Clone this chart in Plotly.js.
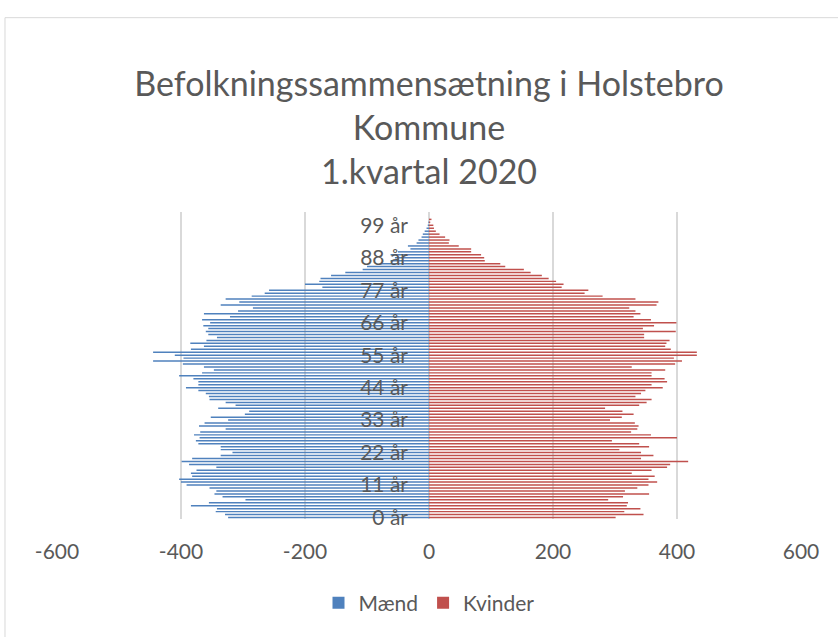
<!DOCTYPE html>
<html>
<head>
<meta charset="utf-8">
<script src="https://cdn.plot.ly/plotly-3.0.1.min.js"></script>
<style>html,body{margin:0;padding:0;background:#fff;}#chart{width:838px;height:637px;}</style>
</head>
<body>
<div id="chart"></div>
<script>
// Ages 0..101
const ages = [0,1,2,3,4,5,6,7,8,9,10,11,12,13,14,15,16,17,18,19,20,21,22,23,24,25,26,27,28,29,30,31,32,33,34,35,36,37,38,39,40,41,42,43,44,45,46,47,48,49,50,51,52,53,54,55,56,57,58,59,60,61,62,63,64,65,66,67,68,69,70,71,72,73,74,75,76,77,78,79,80,81,82,83,84,85,86,87,88,89,90,91,92,93,94,95,96,97,98,99,100,101];
// Mænd (men), count per age
const maend = [324,329,344,342,384,355,296,333,346,343,354,391,400,403,382,384,375,343,387,399,382,336,317,336,336,372,376,370,379,369,328,371,362,324,352,297,290,340,312,328,354,355,360,372,392,372,372,380,403,366,347,363,397,445,396,410,445,384,363,385,359,342,356,360,356,364,353,366,321,363,308,284,336,306,328,286,265,258,172,200,177,175,158,135,107,100,79,62,55,62,50,30,34,20,17,12,10,7,4,2,1,0];
// Kvinder (women), count per age
const kvinder = [301,346,315,341,319,321,289,313,355,316,336,354,368,354,364,327,359,384,389,418,342,362,342,307,355,339,295,400,358,326,336,338,332,292,311,330,312,284,339,351,359,333,342,349,377,359,384,380,359,359,381,327,397,408,395,432,432,390,381,383,388,347,347,398,345,363,399,358,330,341,333,323,367,370,333,280,251,257,214,217,205,193,182,164,153,123,115,90,89,84,68,68,48,32,33,26,17,11,8,7,2,4];
const ageLabels = ages.map(a => a + ' år');
const yTickLabels = ['0 år','11 år','22 år','33 år','44 år','55 år','66 år','77 år','88 år','99 år'];
const xTickVals = [-600,-400,-200,0,200,400,600];
const xTickText = ['-600','-400','-200','0','200','400','600'];
const seriesNames = ['Mænd','Kvinder'];
const titleText = 'Befolkningssammensætning i Holstebro<br>Kommune<br>1.kvartal 2020';

const FONT = 'Lato, "Open Sans", sans-serif';
const GREY = '#595959';

const traces = [
  {type:'bar', orientation:'h', name:seriesNames[0], y:ageLabels, x:maend.map(v => -v),
   marker:{color:'#4F81BD', line:{width:0}}, hoverinfo:'skip'},
  {type:'bar', orientation:'h', name:seriesNames[1], y:ageLabels, x:kvinder,
   marker:{color:'#C0504D', line:{width:0}}, hoverinfo:'skip'}
];

const layout = {
  width:838, height:637,
  margin:{l:57, r:37, t:212, b:118, pad:0},
  paper_bgcolor:'#ffffff', plot_bgcolor:'#ffffff',
  font:{family:FONT, color:GREY},
  barmode:'overlay', bargap:0.5,
  title:{text:titleText, font:{family:FONT, size:34, color:GREY},
         xref:'paper', x:0.5, xanchor:'center', yref:'container', y:0.8493, yanchor:'middle'},
  xaxis:{range:[-600,600], tickmode:'array', tickvals:xTickVals, ticktext:xTickText,
         showgrid:true, gridcolor:'#D9D9D9', gridwidth:1.3,
         zeroline:true, zerolinecolor:'#D9D9D9', zerolinewidth:1.3,
         showline:false, ticks:'', ticklabelstandoff:18,
         tickfont:{family:FONT, size:21, color:GREY}, fixedrange:true},
  yaxis:{type:'category', categoryorder:'array', categoryarray:ageLabels,
         range:[-0.5,103.5], tickmode:'array', tickvals:yTickLabels,
         showgrid:false, zeroline:false, showline:false, ticks:'',
         anchor:'free', position:0.5, side:'left', ticklabelstandoff:21,
         tickfont:{family:FONT, size:21, color:GREY}, fixedrange:true},
  legend:{orientation:'h', x:0.5, xanchor:'center', y:-0.274, yanchor:'middle',
          font:{family:FONT, size:21, color:GREY}, itemwidth:30, traceorder:'normal'},
  shapes:[{type:'rect', xref:'paper', yref:'paper', x0:-0.0699, x1:1.07, y0:-0.45, y1:1.633,
           line:{color:'#D9D9D9', width:1}, fillcolor:'rgba(0,0,0,0)', layer:'below'}]
};

Plotly.newPlot('chart', traces, layout, {staticPlot:true, displayModeBar:false});
</script>
</body>
</html>
